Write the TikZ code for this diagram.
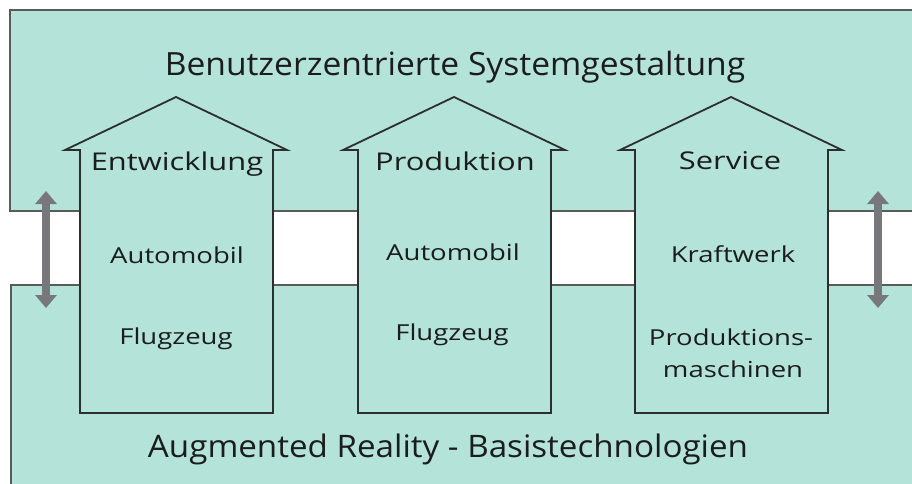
\documentclass[tikz,border=0pt]{standalone}
\usepackage{fontspec}
\setmainfont{Open Sans}
\usetikzlibrary{arrows.meta}
\definecolor{panel}{HTML}{B3E3D9}
\definecolor{rim}{HTML}{5A5A5A}
\definecolor{wall}{HTML}{2E2E2E}
\definecolor{lift}{HTML}{77777C}
\definecolor{ink}{HTML}{1C1C1C}
\tikzset{
  panelbox/.style={fill=panel, draw=rim, line width=1.6pt},
  house/.style={fill=panel, draw=wall, line width=1.8pt, line join=miter},
  basetext/.style={text=ink, inner sep=0pt, anchor=base},
  toptext/.style={basetext, font=\fontsize{32}{36}\selectfont\addfontfeature{FakeStretch=1.05}},
  bottext/.style={basetext, font=\fontsize{31}{36}\selectfont\addfontfeature{FakeStretch=1.07}},
  headtext/.style={basetext, font=\fontsize{24.5}{28}\selectfont\addfontfeature{FakeStretch=1.26}},
  itemtext/.style={basetext, font=\fontsize{22}{26}\selectfont\addfontfeature{FakeStretch=1.25}},
  liftarrow/.style={draw=lift, line width=7.5pt,
    {Triangle[width=21pt,length=13pt]}-{Triangle[width=21pt,length=13pt]}},
}
% house outline around centre x = #1
\newcommand{\housepath}[1]{%
  \draw[house] (#1-96,413) -- (#1-96,150) -- (#1-111,150) -- (#1,97)
    -- (#1+111,150) -- (#1+97,150) -- (#1+97,413) -- cycle;}
\begin{document}
\begin{tikzpicture}[x=1pt,y=-1pt]
  \useasboundingbox (0,0) rectangle (912,483);
  \clip (0,0) rectangle (912,483);
  \fill[white] (0,0) rectangle (912,483);
  % upper and lower layers
  \draw[panelbox] (10,10) rectangle (930,211);
  \draw[panelbox] (11,285) rectangle (930,500);
  % three houses standing on the base layer
  \housepath{176}
  \housepath{454}
  \housepath{731}
  % layer captions
  \node[toptext] (top) at (455,75) {Benutzerzentrierte Systemgestaltung};
  \node[bottext] (base) at (448,457) {Augmented Reality - Basistechnologien};
  % house captions
  \node[headtext] (h1) at (177,170) {Entwicklung};
  \node[headtext] (h2) at (455,170) {Produktion};
  \node[headtext] (h3) at (730,169) {Service};
  \node[itemtext] (a1) at (177,263) {Automobil};
  \node[itemtext] (f1) at (176,344) {Flugzeug};
  \node[itemtext] (a2) at (453,260) {Automobil};
  \node[itemtext] (f2) at (452,340) {Flugzeug};
  \node[itemtext] (k3) at (733,262) {Kraftwerk};
  \node[itemtext] (p3) at (731,345) {Produktions-};
  \node[itemtext] (m3) at (733,377) {maschinen};
  % vertical exchange arrows
  \coordinate (lt) at (46,191);
  \coordinate (lb) at (46,308);
  \coordinate (rt) at (878,191);
  \coordinate (rb) at (878,308);
  \draw[liftarrow] (lt) -- (lb);
  \draw[liftarrow] (rt) -- (rb);
\end{tikzpicture}
\end{document}
